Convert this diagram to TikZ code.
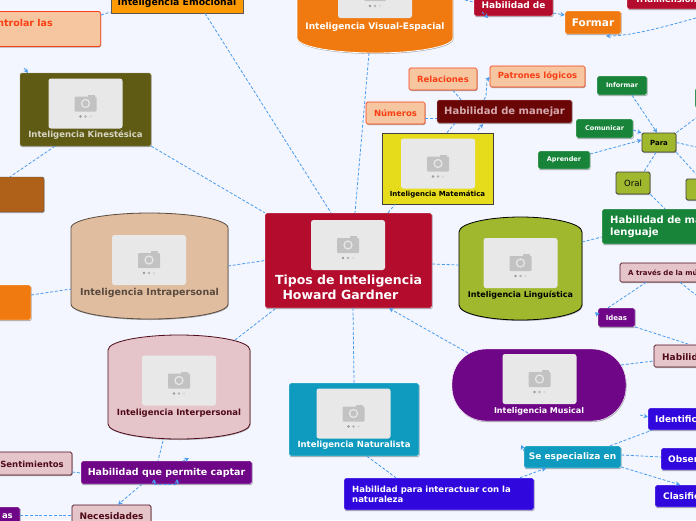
\documentclass[tikz,border=0pt]{standalone}
\usepackage{fontspec}
\setmainfont{DejaVu Sans}
\usepackage{tikz}
\usetikzlibrary{arrows.meta,shadows}

\definecolor{pagebg}{HTML}{F3F6FF}
\definecolor{linkblue}{HTML}{4A9BEF}
\definecolor{redtopic}{HTML}{B30C2C}
\definecolor{orangetopic}{HTML}{F07A10}
\definecolor{ambertopic}{HTML}{FF9900}
\definecolor{olivetopic}{HTML}{5F5A14}
\definecolor{browntopic}{HTML}{AF6119}
\definecolor{sandtopic}{HTML}{E0BD9F}
\definecolor{rosetopic}{HTML}{E6C5CA}
\definecolor{tealtopic}{HTML}{0F9BBF}
\definecolor{purpletopic}{HTML}{6F0587}
\definecolor{limetopic}{HTML}{A0B82E}
\definecolor{yellowtopic}{HTML}{E6DC1C}
\definecolor{greentopic}{HTML}{18843A}
\definecolor{bluetopic}{HTML}{3008DD}
\definecolor{peachtopic}{HTML}{F5C6A0}
\definecolor{peachline}{HTML}{FA3F14}
\definecolor{wine}{HTML}{6B0606}
\definecolor{darkrose}{HTML}{4E0A18}

\newcommand{\photo}[2]{%
  \fill[black!9, rounded corners=2.5pt] (#1-37,#2-25) rectangle (#1+37,#2+25);
  \fill[black!24, rounded corners=1pt] (#1-11,#2-7) rectangle (#1+11,#2+8);
  \fill[black!24] (#1+2,#2-9) rectangle (#1+9,#2-6);
  \draw[black!9, line width=1.2pt] (#1,#2) circle (4pt);
  \foreach \d/\g in {-5/40,0/30,5/15} \fill[black!\g] (#1+\d,#2+13) circle (1.3pt);
}
\newcommand{\drum}[6]{%
  \draw[#5, fill=#6, line width=.8pt, drop shadow={shadow xshift=.5pt, shadow yshift=-1pt, fill=black, opacity=.3}]
    (#1,#2+15) .. controls (#1,#2+6) and (#1+.25*#3-.25*#1,#2) .. (#1+.5*#3-.5*#1,#2)
    .. controls (#1+.75*#3-.75*#1,#2) and (#3,#2+6) .. (#3,#2+15)
    -- (#3,#4-15) .. controls (#3,#4-6) and (#1+.75*#3-.75*#1,#4) .. (#1+.5*#3-.5*#1,#4)
    .. controls (#1+.25*#3-.25*#1,#4) and (#1,#4-6) .. (#1,#4-15) -- cycle;
}

\begin{document}
\begin{tikzpicture}[
  x=1pt, y=-1pt,
  font=\bfseries\fontsize{8.5}{10}\selectfont,
  topic/.style={rectangle, rounded corners=1.5pt, inner sep=0pt, align=center,
    drop shadow={shadow xshift=.5pt, shadow yshift=-1pt, fill=black, opacity=.3}},
  redbox/.style={topic, fill=redtopic, draw=white, text=white},
  orangebox/.style={topic, fill=orangetopic, draw=white, text=white},
  peachbox/.style={topic, fill=peachtopic, draw=peachline, line width=.7pt, text=peachline},
  greenbox/.style={topic, fill=greentopic, draw=white, text=white},
  limebox/.style={topic, fill=limetopic, draw=black!75, line width=.8pt, text=black},
  rosebox/.style={topic, fill=rosetopic, draw=darkrose, line width=.7pt, text=darkrose},
  purplebox/.style={topic, fill=purpletopic, draw=white, text=white},
  bluebox/.style={topic, fill=bluetopic, draw=white, text=white},
  tealbox/.style={topic, fill=tealtopic, draw=white, text=white},
  drumlabel/.style={inner sep=0pt},
  link/.style={linkblue, dash pattern=on 3pt off 1.8pt, line width=.8pt},
  tip/.style={link, -{Stealth[length=4.5pt, width=4.5pt]}}
]
\useasboundingbox[clip] (0,0) rectangle (696,520);
\fill[pagebg] (0,0) rectangle (696,520);

% links go first, the topics cover them
\coordinate (kintop) at (24,68);
\coordinate (kintip) at (28,73);
\coordinate (captartop) at (183,461);
\coordinate (captartip) at (189,458);
\coordinate (captarleft) at (154,484);
\coordinate (captarlefttip) at (154,479);
\coordinate (captarrun) at (177,484);
\coordinate (captarruntip) at (177,479);
\coordinate (identfrom) at (640,415);
\coordinate (identtip) at (648,417);
\coordinate (seleft) at (524,451);
\coordinate (setip) at (521,445);
\coordinate (ideaedge) at (598,315);
\coordinate (ideatip) at (595,312);
\coordinate (habfoot) at (482,12);
\coordinate (habtip) at (488,18);
\coordinate (offright) at (696,18);
\coordinate (formartip) at (606,36);
\coordinate (traveso) at (696,295);
\coordinate (pararight) at (696,147);
\coordinate (parahigh) at (696,118);
\coordinate (paralow) at (696,174);
\coordinate (manejartip) at (483,124);
\coordinate (manejarfrom) at (478,130);

% the topics themselves
\drum{71}{213}{228}{319}{black!60!sandtopic}{sandtopic}
\drum{108}{335}{250}{439}{darkrose}{rosetopic}
\drum{459}{217}{582}{320}{black}{limetopic}
\drum{297}{-50}{453}{53}{white}{orangetopic}

\node[redbox, minimum width=167pt, minimum height=95pt] (howard) at (348.5,260.5) {};
\node[topic, fill=tealtopic, draw=white, minimum width=130pt, minimum height=73pt] (naturalista) at (354,419.5) {};
\node[topic, fill=purpletopic, draw=white, rounded corners=34pt, minimum width=174pt, minimum height=72pt] (musical) at (539,385) {};
\node[topic, rounded corners=0pt, fill=yellowtopic, draw=black!75, line width=.8pt, minimum width=111pt, minimum height=71pt] (matematica) at (437.5,168.5) {};
\node[topic, fill=olivetopic, draw=olivetopic!60!white, minimum width=131pt, minimum height=73pt] (kinestesica) at (85.5,109.5) {};
\node[topic, rounded corners=0pt, fill=ambertopic, draw=black!65, line width=.8pt, minimum width=132pt, minimum height=20pt, font=\bfseries\fontsize{9.3}{11}\selectfont] (emocional) at (177,3) {Inteligencia Emocional};
\node[peachbox, anchor=east, font=\bfseries\fontsize{9.5}{11}\selectfont, minimum width=122pt, minimum height=35pt] (controlar) at (101,29) {};
\node[topic, fill=browntopic, draw=black!70, minimum width=64pt, minimum height=35pt] (cafe) at (12,194.5) {};
\node[orangebox, minimum width=52pt, minimum height=35pt] (naranja) at (5,302.5) {};

\coordinate (intra) at (149.5,266);
\coordinate (inter) at (179,387);
\coordinate (linguistica) at (520.5,268.5);
\coordinate (visual) at (375,20);

\node[purplebox, minimum width=171pt, minimum height=23pt, font=\bfseries\fontsize{9.5}{11}\selectfont] (captar) at (166.5,472.5) {Habilidad que permite captar};
\node[rosebox, minimum width=92pt, minimum height=23pt] (sentimientos) at (26,463.5) {};
\node[rosebox, minimum width=79pt, minimum height=25pt, font=\bfseries\fontsize{9}{11}\selectfont] (necesidades) at (111.5,517.5) {};
\node[purplebox, minimum width=40pt, minimum height=23pt] (personas) at (0,518.5) {};

\node[bluebox, minimum width=190pt, minimum height=32pt] (interactuar) at (439,494) {};
\node[tealbox, minimum width=97pt, minimum height=22pt, font=\bfseries\fontsize{9}{11}\selectfont] (especializa) at (572.5,457) {Se especializa en};
\node[bluebox, minimum width=80pt, minimum height=22pt] (identificar) at (688,419) {};
\node[bluebox, minimum width=70pt, minimum height=22pt] (observar) at (696,459) {};
\node[bluebox, minimum width=80pt, minimum height=22pt] (clasificar) at (695,496) {};
\node[rosebox, minimum width=80pt, minimum height=22pt] (habmusica) at (694,356) {};
\node[purplebox, minimum width=37pt, minimum height=19pt, font=\bfseries\fontsize{7}{8}\selectfont] (ideas) at (616.5,317.5) {Ideas};
\node[rosebox, minimum width=110pt, minimum height=19pt] (traves) at (675,272.5) {};
\node[greenbox, minimum width=130pt, minimum height=35pt] (lenguaje) at (667,226.5) {};

\node[limebox, minimum width=34pt, minimum height=19pt, font=\bfseries\fontsize{7}{8}\selectfont] (para) at (659,142.5) {Para};
\node[limebox, minimum width=34pt, minimum height=22pt, font=\fontsize{8.5}{10}\mdseries\selectfont] (oral) at (633,183) {Oral};
\node[limebox, minimum width=34pt, minimum height=21pt] (escrito) at (703,189.5) {};
\node[greenbox, minimum width=30pt, minimum height=20pt] (verde) at (710,98) {};
\node[greenbox, minimum width=50pt, minimum height=19pt, font=\bfseries\fontsize{6.5}{8}\selectfont] (informar) at (622,85.5) {Informar};
\node[greenbox, minimum width=57pt, minimum height=19pt, font=\bfseries\fontsize{6.5}{8}\selectfont] (comunicar) at (604.5,128.5) {Comunicar};
\node[greenbox, minimum width=52pt, minimum height=18pt, font=\bfseries\fontsize{6.5}{8}\selectfont] (aprender) at (564,160) {Aprender};

\node[topic, fill=wine, draw=white!70!wine, minimum width=135pt, minimum height=23pt, text=rosetopic!85!wine, font=\bfseries\fontsize{10}{12}\selectfont] (manejar) at (504.5,111.5) {Habilidad de manejar};
\node[peachbox, minimum width=68pt, minimum height=22pt] (relaciones) at (443,79) {Relaciones};
\node[peachbox, minimum width=95pt, minimum height=21pt] (patrones) at (537.5,76.5) {Patrones lógicos};
\node[peachbox, minimum width=59pt, minimum height=22pt] (numeros) at (395.5,113) {Números};
\node[redbox, minimum width=79pt, minimum height=28pt, font=\bfseries\fontsize{8.5}{10}\selectfont, text depth=0pt] (habver) at (513.5,2) {};
\node[orangebox, minimum width=56pt, minimum height=23pt, font=\bfseries\fontsize{10.5}{12}\selectfont] (formar) at (593,22.5) {Formar};
\node[redbox, minimum width=100pt, minimum height=20pt] (dimension) at (677,-1) {};

% texts that sit lower in their topic or run off the page
\node[font=\bfseries\fontsize{12.5}{15}\selectfont, text=white, inner sep=0pt, align=center] (howardtxt) at (348.5,287.5) {Tipos de Inteligencia\\Howard Gardner\phantom{xx}};
\node[drumlabel, text=white] (naturalistatxt) at (354,445.5) {Inteligencia Naturalista};
\node[drumlabel, text=white, font=\bfseries\fontsize{8}{10}\selectfont] (musicaltxt) at (539,411) {Inteligencia Musical};
\node[drumlabel, text=black, font=\bfseries\fontsize{7}{8}\selectfont] (matematicatxt) at (437.5,194.5) {Inteligencia Matemática};
\node[drumlabel, text=olivetopic!25!white] (kinestesicatxt) at (85.5,135) {Inteligencia Kinestésica};
\node[drumlabel, text=black!60!sandtopic, font=\bfseries\fontsize{9.5}{11}\selectfont] (intratxt) at (149.5,292.5) {Inteligencia Intrapersonal};
\node[drumlabel, text=darkrose] (intertxt) at (179,413) {Inteligencia Interpersonal};
\node[drumlabel, text=black, font=\bfseries\fontsize{8}{10}\selectfont] (linguisticatxt) at (520.5,295) {Inteligencia Linguística};
\node[drumlabel, text=white, font=\bfseries\fontsize{9}{11}\selectfont] (visualtxt) at (375,27) {Inteligencia Visual-Espacial};
\node[drumlabel, text=peachline, anchor=east, font=\bfseries\fontsize{9.5}{11}\selectfont] (controlartxt) at (53,23) {ntrolar las};
\node[drumlabel, text=darkrose, anchor=east] (sentimientostxt) at (64,464) {Sentimientos};
\node[drumlabel, text=darkrose, font=\bfseries\fontsize{9}{11}\selectfont] (necesidadestxt) at (111.5,516) {Necesidades};
\node[drumlabel, text=white, anchor=east] (personastxt) at (13,516) {as};
\node[drumlabel, text=white, anchor=west, align=left] (interactuartxt) at (352,494) {Habilidad para interactuar con la\\naturaleza};
\node[drumlabel, text=white, anchor=west, font=\bfseries\fontsize{9}{11}\selectfont] (identificartxt) at (655,419) {Identific};
\node[drumlabel, text=white, anchor=west, font=\bfseries\fontsize{9}{11}\selectfont] (observartxt) at (668,459) {Obser};
\node[drumlabel, text=white, anchor=west, font=\bfseries\fontsize{9}{11}\selectfont] (clasificartxt) at (663,496) {Clasific};
\node[drumlabel, text=darkrose, anchor=west, font=\bfseries\fontsize{9}{11}\selectfont] (habmusicatxt) at (662,357) {Habilid};
\node[drumlabel, text=darkrose, anchor=west, font=\bfseries\fontsize{7}{8}\selectfont] (travestxt) at (628,272.5) {A través de la mú};
\node[drumlabel, text=white, anchor=west, align=left, font=\bfseries\fontsize{10}{12}\selectfont] (lenguajetxt) at (610,226.5) {Habilidad de ma\\lenguaje};
\node[drumlabel, text=white, font=\bfseries\fontsize{9}{11}\selectfont] (habvertxt) at (513.5,5) {Habilidad de};
\node[drumlabel, text=white, anchor=west] (dimensiontxt) at (635,-1) {Tridimensional};

\photo{348}{245}
\photo{353.5}{413.5}
\photo{539.5}{379}
\photo{438}{163.5}
\photo{85.5}{103.5}
\photo{149}{260}
\photo{179}{380.5}
\photo{520.5}{263}
\photo{375}{-7}

% connectors
\draw[link] (emocional.south -| 205,0) -- (howard.north -| 331,0);
\draw[link] (controlar.east |- 0,15) -- (emocional.west |- 0,12);
\draw[link] (kinestesica.south east) -- (howard.north west);
\draw[link] (kinestesica.south -| 55,0) -- (cafe.north -| 10,0);
\draw[tip] (kintop) -- (kintip);
\draw[link] (intra -| 228,0) -- (howard.west);
\draw[link] (naranja.east |- 0,295) -- (71,289);
\draw[link] (235,340) -- (howard.south west -| 276,0);
\draw[link] (163,441) -- (captar.north -| 158,0);
\draw[link] (sentimientos.east |- 0,472) -- (captar.west |- 0,473);
\draw[tip] (captar.south -| 142,0) -- (necesidades.north -| 118,0);
\draw[link] (captarleft) -- (captarrun);
\draw[tip] (captarleft) -- (captarlefttip);
\draw[tip] (captarrun) -- (captarruntip);
\draw[tip] (captartop) -- (captartip);
\draw[link] (personas.east |- 0,515) -- (necesidades.west |- 0,515);
\draw[link] (naturalista.north) -- (howard.south -| 353,0);
\draw[link] (naturalista.south -| 367,0) -- (interactuar.north -| 396,0);
\draw[tip] (interactuar.north -| 520,0) -- (especializa.south -| 546,0);
\draw[link] (especializa.north -| 610,0) -- (identificar.south -| 652,0);
\draw[tip] (identfrom) -- (identtip);
\draw[link] (especializa.east |- 0,455) -- (observar.west |- 0,457);
\draw[tip] (especializa.east |- 0,467) -- (clasificar.north -| 680,0);
\draw[tip] (seleft) -- (setip);
\draw[tip] (468,353) -- (howard.south -| 389,0);
\draw[link] (621,365) -- (habmusica.west |- 0,361);
\draw[link] (ideas.east |- 0,327) -- (habmusica.north -| 690,0);
\draw[link] (ideas.north -| 608,0) -- (traves.south -| 646,0);
\draw[link] (traves.south -| 680,0) -- (traveso);
\draw[tip] (ideaedge) -- (ideatip);
\draw[link] (howard.east |- 0,264) -- (459,265);
\draw[link] (582,242) -- (lenguaje.west |- 0,237);
\draw[link] (oral.south east) -- (lenguaje.north -| 665,0);
\draw[link] (para.south -| 656,0) -- (oral.north -| 644,0);
\draw[link] (para.south east) -- (paralow);
\draw[link] (para.east) -- (pararight);
\draw[link] (para.north east) -- (parahigh);
\draw[tip] (informar.south -| 632,0) -- (para.north -| 657,0);
\draw[tip] (comunicar.east |- 0,130) -- (para.west |- 0,133);
\draw[tip] (aprender.east |- 0,154) -- (para.west |- 0,140);
\draw[link] (howard.north -| 388,0) -- (matematica.south -| 395,0);
\draw[link] (matematica.north -| 447,0) -- (manejar.south -| 455,0);
\draw[tip] (manejarfrom) -- (manejartip);
\draw[link] (numeros.east |- 0,118) -- (manejar.west |- 0,118);
\draw[link] (relaciones.south -| 453,0) -- (manejar.north -| 461,0);
\draw[tip] (manejar.north -| 484,0) -- (486,96) -- (487,80) -- (patrones.west |- 0,77);
\draw[link] (369,53) -- (howard.north -| 355,0);
\draw[tip] (habver.east |- 0,13) -- (formar.west |- 0,15);
\draw[tip] (offright) .. controls (660,28) and (630,36) .. (formartip);
\draw[tip] (habfoot) -- (habtip);
\draw[link] (465,0) -- (habver.west |- 0,2);

\end{tikzpicture}
\end{document}
